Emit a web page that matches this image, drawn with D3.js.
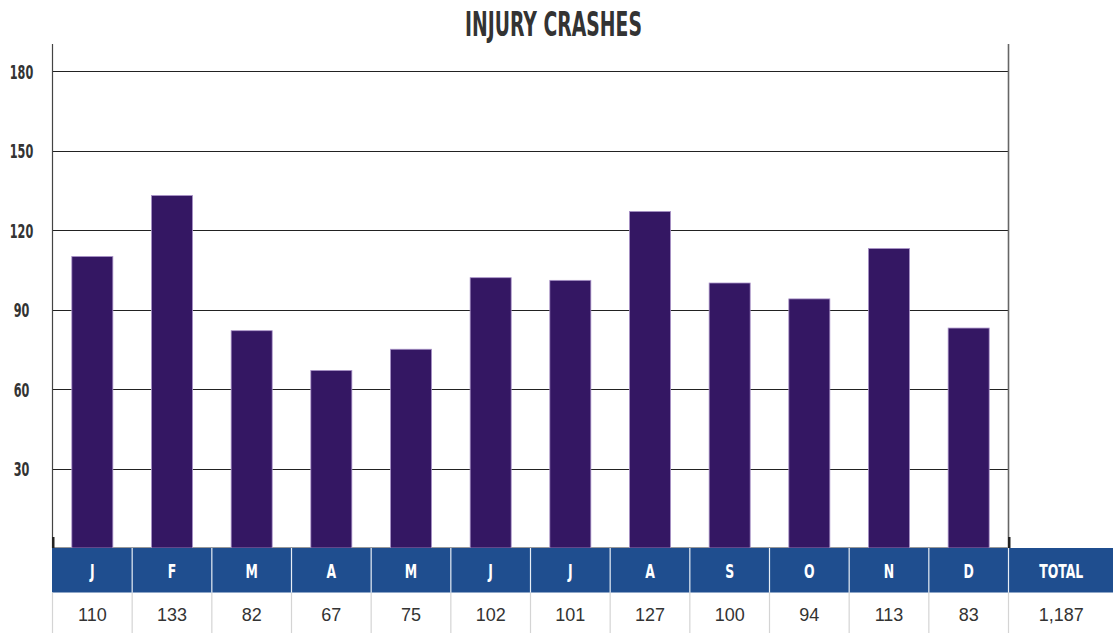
<!DOCTYPE html>
<html>
<head>
<meta charset="utf-8">
<script src="https://cdn.jsdelivr.net/npm/d3@7"></script>
<style>
  html, body { margin: 0; padding: 0; background: #fff; }
  svg { display: block; }
</style>
</head>
<body>
<svg id="chart" width="1113" height="633"></svg>
<script>
const months = ["J","F","M","A","M","J","J","A","S","O","N","D"];
const values = [110,133,82,67,75,102,101,127,100,94,113,83];
const totalLabel = "TOTAL";
const totalValue = "1,187";
const yTicks = [30,60,90,120,150,180];
const title = "INJURY CRASHES";

(function () {
const W = 1113, H = 633;
const plotL = 52.5, plotR = 1008.5, base = 548, plotT = 71;
const condensed = "'DejaVu Sans Condensed','DejaVu Sans',sans-serif";

const svg = d3.select("#chart");

const x = d3.scaleBand().domain(d3.range(months.length)).range([plotL, plotR])
  .paddingInner(0.485).paddingOuter(0.2425);
const y = d3.scaleLinear().domain([0,180]).range([base, plotT]);

function squeeze(sample, size, targetW) {
  const t = svg.append("text").attr("font-family", condensed).attr("font-weight", "bold")
    .attr("font-size", size).text(sample);
  const w = t.node().getComputedTextLength();
  t.remove();
  return targetW / w;
}
function condText(g, px, py, str, size, sx, anchor, fill) {
  return g.append("text")
    .attr("transform", `translate(${px},${py}) scale(${sx},1)`)
    .attr("text-anchor", anchor)
    .attr("font-family", condensed).attr("font-weight", "bold")
    .attr("font-size", size).attr("fill", fill)
    .text(str);
}

// title
const sTitle = squeeze(title, 34, 177);
condText(svg, 553.5, 35.7, title, 34, sTitle, "middle", "#333");

// gridlines
svg.append("g").selectAll("line").data(yTicks).join("line")
  .attr("x1", plotL).attr("x2", plotR)
  .attr("y1", d => Math.round(y(d)) + 0.5).attr("y2", d => Math.round(y(d)) + 0.5)
  .attr("stroke", "#222").attr("stroke-width", 1);

// y tick labels
const sY = squeeze("180", 20, 23.5);
const gy = svg.append("g");
yTicks.forEach(d => condText(gy, 21.5, y(d) + 7.6, d, 20, sY, "middle", "#333"));

// axis frame
svg.append("line").attr("x1", plotL).attr("x2", plotL).attr("y1", 44).attr("y2", base)
  .attr("stroke", "#444").attr("stroke-width", 1.2);
svg.append("line").attr("x1", plotR).attr("x2", plotR).attr("y1", 44).attr("y2", base)
  .attr("stroke", "#666").attr("stroke-width", 1.6);
svg.append("line").attr("x1", plotL).attr("x2", plotR).attr("y1", base - 0.5).attr("y2", base - 0.5)
  .attr("stroke", "#999").attr("stroke-width", 1);
[plotL, plotR].forEach(px => {
  svg.append("rect").attr("x", px - 0.5).attr("y", 537).attr("width", 2.5).attr("height", 11).attr("fill", "#222");
});

// bars
svg.append("g").selectAll("rect").data(values).join("rect")
  .attr("x", (d,i) => x(i)).attr("width", x.bandwidth())
  .attr("y", d => y(d)).attr("height", d => base - y(d))
  .attr("fill", "#341763").attr("stroke", "#a992c8").attr("stroke-width", 0.8);

// table
const headY = 548, headH = 44.5, rowY = headY + headH;
svg.append("rect").attr("x", plotL - 0.5).attr("y", headY).attr("width", W - plotL + 0.5).attr("height", headH)
  .attr("fill", "#1f4e8f");

const bounds = d3.range(months.length + 1).map(i => plotL + x.step() * i);
svg.append("g").selectAll("line").data(bounds).join("line")
  .attr("x1", d => d).attr("x2", d => d).attr("y1", rowY).attr("y2", H)
  .attr("stroke", "#d4d4d4").attr("stroke-width", 1.2);
svg.append("g").selectAll("line").data(bounds.slice(1)).join("line")
  .attr("x1", d => d).attr("x2", d => d).attr("y1", headY).attr("y2", rowY)
  .attr("stroke", "#e8eef6").attr("stroke-width", 1.2);

const totalCx = (plotR + W) / 2 + 0.5;
const sH = squeeze(totalLabel, 19.6, 44);
const gh = svg.append("g");
months.forEach((m, i) => condText(gh, x(i) + x.bandwidth()/2, headY + 29.8, m, 19.6, sH, "middle", "#fff"));
condText(gh, totalCx, headY + 29.8, totalLabel, 19.6, sH, "middle", "#fff");

svg.append("g").selectAll("text").data(values).join("text")
  .attr("x", (d,i) => x(i) + x.bandwidth()/2).attr("y", rowY + 28.5)
  .attr("text-anchor", "middle")
  .attr("font-family", "'Liberation Sans',Arial,sans-serif")
  .attr("font-size", 18).attr("fill", "#333")
  .text(d => d);
svg.append("text").attr("x", totalCx).attr("y", rowY + 28.5)
  .attr("text-anchor", "middle")
  .attr("font-family", "'Liberation Sans',Arial,sans-serif")
  .attr("font-size", 18).attr("fill", "#333")
  .text(totalValue);
})();
</script>
</body>
</html>
